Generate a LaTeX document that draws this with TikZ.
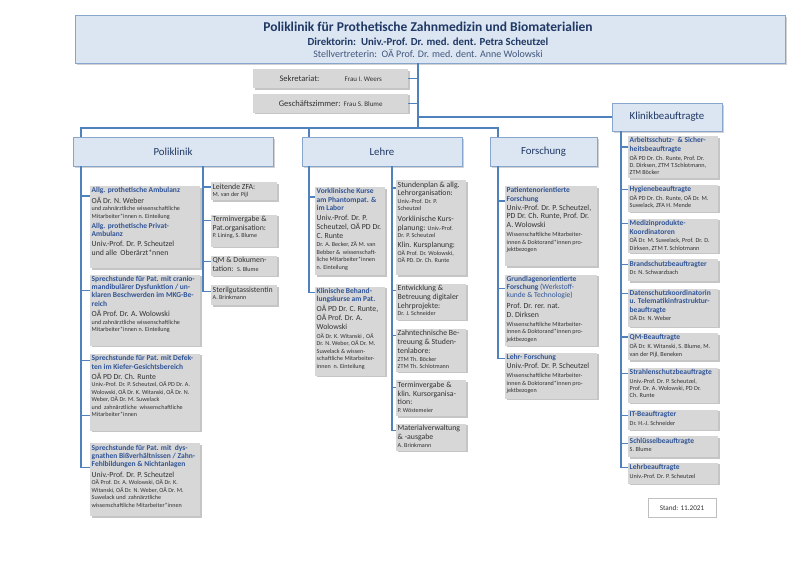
\documentclass[tikz,border=0pt]{standalone}
\usepackage{fontspec}
\setmainfont{Carlito}
\usetikzlibrary{positioning, shadows}

\definecolor{hdrfill}{RGB}{220,230,242}
\definecolor{hdrline}{RGB}{135,165,205}
\definecolor{linkblue}{RGB}{79,129,189}
\definecolor{subgray}{RGB}{215,215,215}
\definecolor{ttlblue}{RGB}{47,84,150}
\definecolor{navy}{RGB}{31,56,100}
\definecolor{bodytxt}{RGB}{50,50,50}

% text styles inside the grey boxes
\newcommand{\ttl}{\fontsize{7.5}{8.3}\selectfont\bfseries\color{ttlblue}}
\newcommand{\nme}{\fontsize{7.8}{8.8}\selectfont\mdseries\color{bodytxt}}
\newcommand{\sml}{\fontsize{6.1}{7.5}\selectfont\mdseries\color{bodytxt}}
\newcommand{\ksml}{\fontsize{6.2}{7.3}\selectfont\mdseries\color{bodytxt}}
\newcommand{\boxtxt}[3]{\parbox[t][\dimexpr#2-3pt\relax][t]{\dimexpr#1-3pt\relax}{\raggedright #3}}

\begin{document}
\begin{tikzpicture}[x=1pt, y=-1pt,
  link/.style={draw=linkblue, line width=1.2pt},
  hdrbox/.style={draw=hdrline, fill=hdrfill, line width=.9pt, drop shadow={shadow xshift=1.5pt, shadow yshift=-1.5pt, opacity=.35}},
  catbox/.style={hdrbox, text=navy, font=\fontsize{10.8}{12}\selectfont, minimum height=29pt, inner sep=0pt},
  subbox/.style={fill=subgray, inner xsep=1.5pt, inner ysep=1.5pt, drop shadow={shadow xshift=1.4pt, shadow yshift=-1.4pt, opacity=.45}},
  sekbox/.style={fill=subgray, minimum width=155pt, minimum height=19pt, inner sep=0pt, text=bodytxt, drop shadow={shadow xshift=1.4pt, shadow yshift=-1.4pt, opacity=.45}},
]
\fill[white] (0,0) rectangle (800,566);
\useasboundingbox (0,0) rectangle (800,566);

% head
\node[hdrbox, minimum width=710pt, minimum height=48pt, inner sep=0pt] (hdr) at (430,39) {};
\node[font=\fontsize{13.5}{15}\selectfont\bfseries, text=navy] (hdrttl) at (428,27) {Poliklinik für Prothetische Zahnmedizin und Biomaterialien};
\node[font=\fontsize{10.8}{12}\selectfont\bfseries, text=navy] (hdrdir) at (428,42) {Direktorin:\ \ Univ.-Prof. Dr. med. dent. Petra Scheutzel};
\node[font=\fontsize{10}{12}\selectfont, text=navy!85] (hdrvert) at (428,54) {Stellvertreterin:\ \ OÄ Prof. Dr. med. dent. Anne Wolowski};

\node[sekbox, anchor=north west] (sek) at (253,69) {\makebox[65pt][l]{\fontsize{8.5}{10}\selectfont Sekretariat:}{\fontsize{7}{8}\selectfont Frau I. Weers}};
\node[sekbox, below=5pt of sek] (gz) {{\fontsize{8.5}{10}\selectfont Geschäftszimmer:} {\fontsize{7}{8}\selectfont Frau S. Blume}};

% departments
\node[catbox, minimum width=200pt] (polik) at (173,151.5) {Poliklinik};
\node[catbox, minimum width=160pt] (lehre) at (382,151.5) {Lehre};
\node[catbox, minimum width=107pt] (forsch) at (543.5,151.5) {Forschung};
\node[catbox, minimum width=110pt, minimum height=28pt] (klinik) at (667,117) {Klinikbeauftragte};

% Poliklinik
\node[subbox, anchor=north west] (amb) at (90,186) {\boxtxt{110pt}{82pt}{%
  {\ttl Allg. prothetische Ambulanz\par}\vspace{1.5pt}
  {\nme OÄ Dr. N. Weber\par}
  {\sml und zahnärztliche wissenschaftliche\\Mitarbeiter*innen n. Einteilung\par}\vspace{1.5pt}
  {\ttl Allg. prothetische Privat-\\Ambulanz\par}\vspace{1.5pt}
  {\nme Univ.-Prof. Dr. P. Scheutzel\\und alle\ \ Oberärzt*nnen\par}}};
\node[subbox, below=6pt of amb] (cmd) {\boxtxt{110pt}{71pt}{%
  {\ttl Sprechstunde für Pat. mit cranio-\\mandibulärer Dysfunktion / un-\\klaren Beschwerden im MKG-Be-\\reich\par}\vspace{1.5pt}
  {\nme OÄ Prof. Dr. A. Wolowski\par}
  {\sml und zahnärztliche wissenschaftliche\\Mitarbeiter*innen n. Einteilung\par}}};
\node[subbox, below=8pt of cmd] (def) {\boxtxt{110pt}{77pt}{%
  {\ttl Sprechstunde für Pat. mit Defek-\\ten im Kiefer-Gesichtsbereich\par}\vspace{1.5pt}
  {\nme OÄ PD Dr. Ch. Runte\par}
  {\sml Univ.-Prof. Dr. P. Scheutzel, OÄ PD Dr. A.\\Wolowski, OÄ Dr. K. Witanski, OÄ Dr. N.\\Weber, OÄ Dr. M. Suwelack\\und\ \ zahnärztliche\ \ wissenschaftliche\\Mitarbeiter*innen\par}}};
\node[subbox, below=12pt of def] (dys) {\boxtxt{110pt}{73pt}{%
  {\ttl Sprechstunde für Pat. mit\ \ dys-\\gnathen Bißverhältnissen / Zahn-\\Fehlbildungen \& Nichtanlagen\par}\vspace{1.5pt}
  {\nme Univ.-Prof. Dr. P. Scheutzel\par}
  {\sml OÄ Prof. Dr. A. Wolowski, OÄ Dr. K.\\Witanski, OÄ Dr. N. Weber, OÄ Dr. M.\\Suwelack und\ \ zahnärztliche\\wissenschaftliche Mitarbeiter*innen\par}}};

\node[subbox, anchor=north west] (zfa) at (211,182) {\boxtxt{66pt}{18pt}{%
  {\nme Leitende ZFA:\par}{\sml M. van der Pijl\par}}};
\node[subbox, below=14pt of zfa] (term) {\boxtxt{66pt}{32pt}{%
  {\nme Terminvergabe \&\\Pat.organisation:\par}{\sml P. Lining, S. Blume\par}}};
\node[subbox, below=9pt of term] (qm) {\boxtxt{66pt}{20pt}{%
  {\nme QM \& Dokumen-\\tation:\ \ {\sml S. Blume}\par}}};
\node[subbox, below=9pt of qm] (steril) {\boxtxt{66pt}{20pt}{%
  {\nme Sterilgutassistentin\par}{\sml A. Brinkmann\par}}};

% Lehre
\node[subbox, anchor=north west] (vork) at (315,187) {\boxtxt{70pt}{88pt}{%
  {\ttl Vorklinische Kurse\\am Phantompat. \&\\im Labor\par}\vspace{1.5pt}
  {\nme Univ.-Prof. Dr. P.\\Scheutzel, OÄ PD Dr.\\C. Runte\par}\vspace{1pt}
  {\sml Dr. A. Becker, ZÄ M. van\\Bebber \&\ \ wissenschaft-\\liche Mitarbeiter*innen\\n. Einteilung\par}}};
\node[subbox, below=11pt of vork] (klin) {\boxtxt{70pt}{89pt}{%
  {\ttl Klinische Behand-\\lungskurse am Pat.\par}\vspace{1.5pt}
  {\nme OÄ PD Dr. C. Runte,\\OÄ Prof. Dr. A.\\Wolowski\par}\vspace{1pt}
  {\sml OÄ Dr. K. Witanski , OÄ\\Dr. N. Weber, OÄ Dr. M.\\Suwelack \& wissen-\\schaftliche Mitarbeiter-\\*innen\ \ n. Einteilung\par}}};

\node[subbox, anchor=north west] (stdpl) at (396,180) {\boxtxt{70pt}{95pt}{%
  {\nme Stundenplan \& allg.\\Lehrorganisation:\par}{\sml Univ.-Prof. Dr. P.\\Scheutzel\par}\vspace{1.5pt}
  {\nme Vorklinische Kurs-\\planung: {\sml Univ.-Prof.}\par}{\sml Dr. P. Scheutzel\par}\vspace{1.5pt}
  {\nme Klin. Kursplanung:\par}{\sml OÄ Prof. Dr. Wolowski,\\OÄ PD. Dr. Ch. Runte\par}}};
\node[subbox, below=8pt of stdpl] (digi) {\boxtxt{70pt}{36pt}{%
  {\nme Entwicklung \&\\Betreuung digitaler\\Lehrprojekte:\par}{\sml Dr. J. Schneider\par}}};
\node[subbox, below=9pt of digi] (zt) {\boxtxt{70pt}{43pt}{%
  {\nme Zahntechnische Be-\\treuung \& Studen-\\tenlabore:\par}{\sml ZTM Th. Böcker\\ZTM Th. Schlotmann\par}}};
\node[subbox, below=8pt of zt] (tv) {\boxtxt{70pt}{36pt}{%
  {\nme Terminvergabe \&\\klin. Kursorganisa-\\tion:\par}{\sml P. Wöstemeier\par}}};
\node[subbox, below=7pt of tv] (mat) {\boxtxt{70pt}{27pt}{%
  {\nme Materialverwaltung\\\& -ausgabe\par}{\sml A. Brinkmann\par}}};

% Forschung
\node[subbox, anchor=north west] (pat) at (505,186) {\boxtxt{92pt}{80pt}{%
  {\ttl Patientenorientierte\\Forschung\par}
  {\nme Univ.-Prof. Dr. P. Scheutzel,\\PD Dr. Ch. Runte, Prof. Dr.\\A. Wolowski\par}\vspace{1.5pt}
  {\sml Wissenschaftliche Mitarbeiter-\\*innen \& Doktorand*innen pro-\\jektbezogen\par}}};
\node[subbox, below=8pt of pat] (grund) {\boxtxt{92pt}{71pt}{%
  {\ttl Grundlagenorientierte\\Forschung {\mdseries(Werkstoff-}\\{\mdseries kunde \& Technologie)}\par}\vspace{1.5pt}
  {\nme Prof. Dr. rer. nat.\\D. Dirksen\par}\vspace{1.5pt}
  {\sml Wissenschaftliche Mitarbeiter-\\*innen \& Doktorand*innen pro-\\jektbezogen\par}}};
\node[subbox, below=7pt of grund] (lehrf) {\boxtxt{92pt}{46pt}{%
  {\ttl Lehr- Forschung\par}
  {\nme Univ.-Prof. Dr. P. Scheutzel\par}\vspace{1.5pt}
  {\sml Wissenschaftliche Mitarbeiter-\\*innen \& Doktorand*innen pro-\\jektbezogen\par}}};

% Klinikbeauftragte
\node[subbox, anchor=north west] (arb) at (628,136) {\boxtxt{90pt}{42pt}{%
  {\ttl Arbeitsschutz-\ \ \& Sicher-\\heitsbeauftragte\par}\vspace{1.5pt}
  {\ksml OÄ PD Dr. Ch. Runte, Prof. Dr.\\D. Dirksen, ZTM T.Schlotmann,\\ZTM Böcker\par}}};
\node[subbox, below=6pt of arb] (hyg) {\boxtxt{90pt}{27pt}{%
  {\ttl Hygienebeauftragte\par}\vspace{1.5pt}
  {\ksml OÄ PD Dr. Ch. Runte, OÄ Dr. M.\\Suwelack, ZFA H. Mende\par}}};
\node[subbox, below=7pt of hyg] (med) {\boxtxt{90pt}{34pt}{%
  {\ttl Medizinprodukte-\\Koordinatoren\par}\vspace{1.5pt}
  {\ksml OÄ Dr. M. Suwelack, Prof. Dr. D.\\Dirksen, ZTM T. Schlotmann\par}}};
\node[subbox, below=6pt of med] (brand) {\boxtxt{90pt}{22pt}{%
  {\ttl Brandschutzbeauftragter\par}\vspace{1.5pt}
  {\ksml Dr. N. Schwarzbach\par}}};
\node[subbox, below=7pt of brand] (daten) {\boxtxt{90pt}{38pt}{%
  {\ttl Datenschutzkoordinatorin\\u. Telematikinfrastruktur-\\beauftragte\par}\vspace{1.5pt}
  {\ksml OÄ Dr. N. Weber\par}}};
\node[subbox, below=6pt of daten] (qmb) {\boxtxt{90pt}{27pt}{%
  {\ttl QM-Beauftragte\par}\vspace{1.5pt}
  {\ksml OÄ Dr. K. Witanski, S. Blume, M.\\van der Pijl, Beneken\par}}};
\node[subbox, below=7pt of qmb] (strahl) {\boxtxt{90pt}{35pt}{%
  {\ttl Strahlenschutzbeauftragte\par}\vspace{1.5pt}
  {\ksml Univ.-Prof. Dr. P. Scheutzel,\\Prof. Dr. A. Wolowski, PD Dr.\\Ch. Runte\par}}};
\node[subbox, below=7pt of strahl] (it) {\boxtxt{90pt}{20pt}{%
  {\ttl IT-Beauftragter\par}\vspace{1.5pt}
  {\ksml Dr. H.-J. Schneider\par}}};
\node[subbox, below=6pt of it] (schl) {\boxtxt{90pt}{21pt}{%
  {\ttl Schlüsselbeauftragte\par}\vspace{1.5pt}
  {\ksml S. Blume\par}}};
\node[subbox, below=5pt of schl] (lehrb) {\boxtxt{90pt}{21pt}{%
  {\ttl Lehrbeauftragte\par}\vspace{1.5pt}
  {\ksml Univ.-Prof. Dr. P. Scheutzel\par}}};

\node[draw=black!25, fill=white, minimum width=68pt, minimum height=19pt, font=\fontsize{7.2}{9}\selectfont, text=bodytxt] (stand) at (682,508) {Stand: 11.2021};

% lines
\coordinate (trunk) at (418,128);
\coordinate (pv) at (81,0);
\coordinate (mv) at (203,0);
\coordinate (lv) at (309,0);
\coordinate (lv2) at (392,0);
\coordinate (fv) at (498,0);
\coordinate (kv) at (621,0);

\draw[link] (hdr.south -| trunk) -- (trunk);
\draw[link] (sek.east) -- (sek.east -| trunk);
\draw[link] (gz.east) -- (gz.east -| trunk);
\draw[link] (klinik.west -| trunk) -- (klinik.west);
\draw[link] (pv |- polik.north) |- (trunk) -| (fv |- forsch.north);
\draw[link] (lv |- trunk) -- (lv |- lehre.north);

\draw[link] (pv |- polik.south) |- ([yshift=-24pt]dys.north west);
\foreach \b/\d in {amb/10, cmd/16, def/7, def/62}
  \draw[link] (\b.north west) ++(0,\d) coordinate (s) (s -| pv) -- (s);

\draw[link] (mv |- polik.south) |- ([yshift=-6pt]steril.north west);
\foreach \b/\d in {zfa/5, term/6, qm/6}
  \draw[link] (\b.north west) ++(0,\d) coordinate (s) (s -| mv) -- (s);

\draw[link] (lv |- lehre.south) |- ([yshift=-6pt]klin.north west);
\draw[link] (vork.north west) ++(0,10) coordinate (s) (s -| lv) -- (s);

\draw[link] (lv2 |- lehre.south) |- ([yshift=-7pt]mat.north west);
\foreach \b/\d in {stdpl/8, digi/7, zt/7, tv/7}
  \draw[link] (\b.north west) ++(0,\d) coordinate (s) (s -| lv2) -- (s);

\draw[link] (fv |- forsch.south) |- ([yshift=-6pt]lehrf.north west);
\foreach \b/\d in {pat/15, grund/14}
  \draw[link] (\b.north west) ++(0,\d) coordinate (s) (s -| fv) -- (s);

\draw[link] (kv |- klinik.south) |- ([yshift=-5pt]lehrb.north west);
\foreach \b/\d in {arb/11, hyg/5, med/5, brand/5, daten/5, qmb/4, strahl/6, it/6, schl/7}
  \draw[link] (\b.north west) ++(0,\d) coordinate (s) (s -| kv) -- (s);
\end{tikzpicture}
\end{document}
